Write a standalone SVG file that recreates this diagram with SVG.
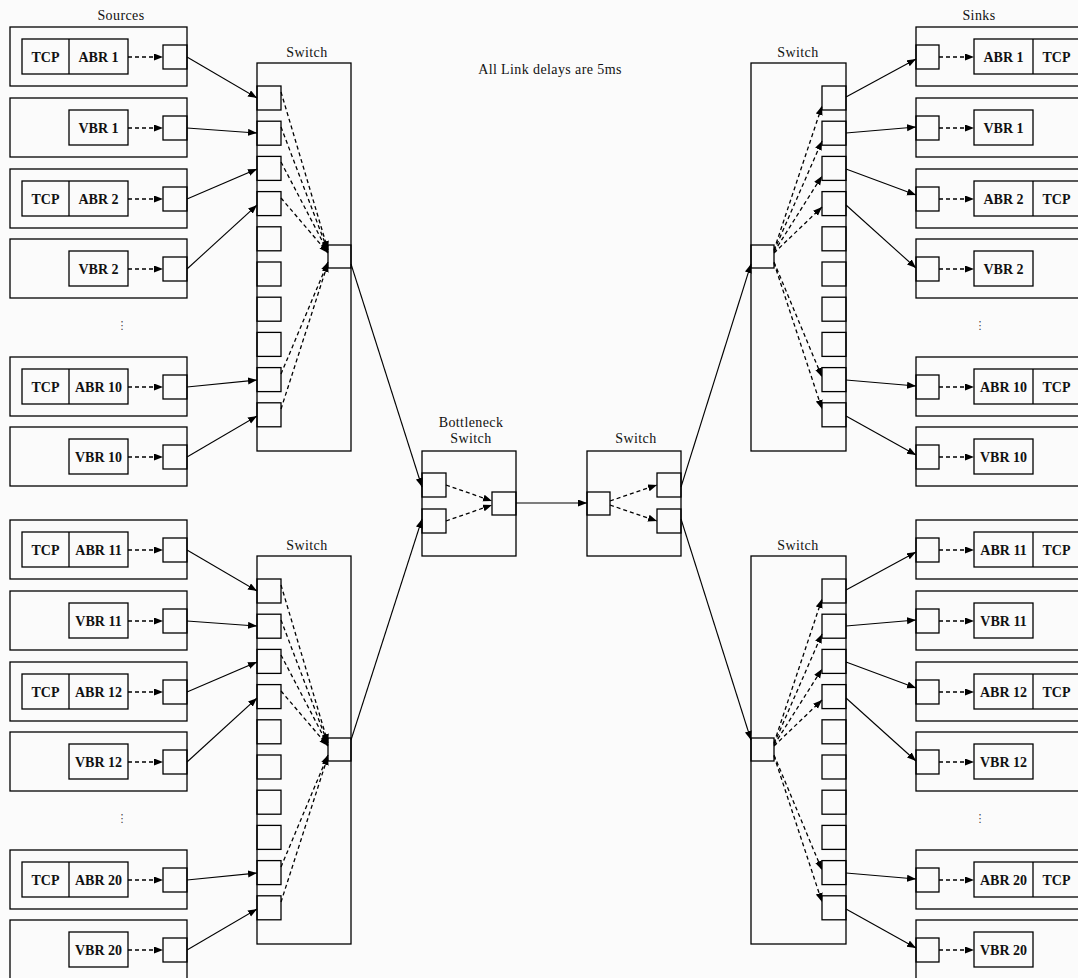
<svg xmlns="http://www.w3.org/2000/svg" width="1078" height="978" viewBox="0 0 1078 978">
<defs>
<marker id="ah" markerUnits="userSpaceOnUse" markerWidth="10" markerHeight="8" refX="9" refY="3.5" orient="auto"><path d="M0,0 L9,3.5 L0,7 z" fill="#000"/></marker>
<style>
.b{fill:none;stroke:#000;stroke-width:1.3}
.l{font-family:"Liberation Serif",serif;font-size:14px;font-weight:bold;text-anchor:middle;fill:#111}
.t{font-family:"Liberation Serif",serif;font-size:14px;letter-spacing:0.4px;text-anchor:middle;fill:#111}
.d{font-family:"DejaVu Sans",sans-serif;font-size:11px;text-anchor:middle;fill:#444}
.s{stroke:#000;stroke-width:1.1;fill:none;marker-end:url(#ah)}
.k{stroke:#000;stroke-width:1.3;stroke-dasharray:4 3;fill:none;marker-end:url(#ah)}
</style>
</defs>
<rect x="0" y="0" width="1078" height="978" fill="#fbfbfb"/>

<text class="t" x="121" y="20">Sources</text>
<text class="t" x="979" y="20">Sinks</text>
<text class="t" x="550" y="74">All Link delays are 5ms</text>
<text class="d" x="122" y="329">⋮</text>
<text class="d" x="122" y="822">⋮</text>
<text class="d" x="980" y="329">⋮</text>
<text class="d" x="980" y="822">⋮</text>

<!-- Sources -->
<g id="src-abr1"><rect class="b" x="10" y="27" width="177" height="59"/><rect class="b" x="22" y="39" width="106" height="35"/><line class="b" x1="69" y1="39" x2="69" y2="74"/><text class="l" x="45.5" y="61.5">TCP</text><text class="l" x="98.5" y="61.5">ABR 1</text><rect class="b" x="163" y="45" width="24" height="24"/></g>
<g id="src-vbr1"><rect class="b" x="10" y="98" width="177" height="59"/><rect class="b" x="69" y="110" width="59" height="35"/><text class="l" x="98.5" y="132.5">VBR 1</text><rect class="b" x="163" y="116" width="24" height="24"/></g>
<g id="src-abr2"><rect class="b" x="10" y="169" width="177" height="59"/><rect class="b" x="22" y="181" width="106" height="35"/><line class="b" x1="69" y1="181" x2="69" y2="216"/><text class="l" x="45.5" y="203.5">TCP</text><text class="l" x="98.5" y="203.5">ABR 2</text><rect class="b" x="163" y="187" width="24" height="24"/></g>
<g id="src-vbr2"><rect class="b" x="10" y="239" width="177" height="59"/><rect class="b" x="69" y="251" width="59" height="35"/><text class="l" x="98.5" y="273.5">VBR 2</text><rect class="b" x="163" y="257" width="24" height="24"/></g>
<g id="src-abr10"><rect class="b" x="10" y="357" width="177" height="59"/><rect class="b" x="22" y="369" width="106" height="35"/><line class="b" x1="69" y1="369" x2="69" y2="404"/><text class="l" x="45.5" y="391.5">TCP</text><text class="l" x="98.5" y="391.5">ABR 10</text><rect class="b" x="163" y="375" width="24" height="24"/></g>
<g id="src-vbr10"><rect class="b" x="10" y="427" width="177" height="59"/><rect class="b" x="69" y="439" width="59" height="35"/><text class="l" x="98.5" y="461.5">VBR 10</text><rect class="b" x="163" y="445" width="24" height="24"/></g>
<g id="src-abr11"><rect class="b" x="10" y="520" width="177" height="59"/><rect class="b" x="22" y="532" width="106" height="35"/><line class="b" x1="69" y1="532" x2="69" y2="567"/><text class="l" x="45.5" y="554.5">TCP</text><text class="l" x="98.5" y="554.5">ABR 11</text><rect class="b" x="163" y="538" width="24" height="24"/></g>
<g id="src-vbr11"><rect class="b" x="10" y="591" width="177" height="59"/><rect class="b" x="69" y="603" width="59" height="35"/><text class="l" x="98.5" y="625.5">VBR 11</text><rect class="b" x="163" y="609" width="24" height="24"/></g>
<g id="src-abr12"><rect class="b" x="10" y="662" width="177" height="59"/><rect class="b" x="22" y="674" width="106" height="35"/><line class="b" x1="69" y1="674" x2="69" y2="709"/><text class="l" x="45.5" y="696.5">TCP</text><text class="l" x="98.5" y="696.5">ABR 12</text><rect class="b" x="163" y="680" width="24" height="24"/></g>
<g id="src-vbr12"><rect class="b" x="10" y="732" width="177" height="59"/><rect class="b" x="69" y="744" width="59" height="35"/><text class="l" x="98.5" y="766.5">VBR 12</text><rect class="b" x="163" y="750" width="24" height="24"/></g>
<g id="src-abr20"><rect class="b" x="10" y="850" width="177" height="59"/><rect class="b" x="22" y="862" width="106" height="35"/><line class="b" x1="69" y1="862" x2="69" y2="897"/><text class="l" x="45.5" y="884.5">TCP</text><text class="l" x="98.5" y="884.5">ABR 20</text><rect class="b" x="163" y="868" width="24" height="24"/></g>
<g id="src-vbr20"><rect class="b" x="10" y="920" width="177" height="59"/><rect class="b" x="69" y="932" width="59" height="35"/><text class="l" x="98.5" y="954.5">VBR 20</text><rect class="b" x="163" y="938" width="24" height="24"/></g>

<!-- Sinks -->
<g id="snk-abr1"><rect class="b" x="916" y="27" width="180" height="59"/><rect class="b" x="916" y="45" width="23" height="24"/><rect class="b" x="974" y="39" width="106" height="35"/><line class="b" x1="1033" y1="39" x2="1033" y2="74"/><text class="l" x="1003.5" y="61.5">ABR 1</text><text class="l" x="1056.5" y="61.5">TCP</text></g>
<g id="snk-vbr1"><rect class="b" x="916" y="98" width="180" height="59"/><rect class="b" x="916" y="116" width="23" height="24"/><rect class="b" x="974" y="110" width="59" height="35"/><text class="l" x="1003.5" y="132.5">VBR 1</text></g>
<g id="snk-abr2"><rect class="b" x="916" y="169" width="180" height="59"/><rect class="b" x="916" y="187" width="23" height="24"/><rect class="b" x="974" y="181" width="106" height="35"/><line class="b" x1="1033" y1="181" x2="1033" y2="216"/><text class="l" x="1003.5" y="203.5">ABR 2</text><text class="l" x="1056.5" y="203.5">TCP</text></g>
<g id="snk-vbr2"><rect class="b" x="916" y="239" width="180" height="59"/><rect class="b" x="916" y="257" width="23" height="24"/><rect class="b" x="974" y="251" width="59" height="35"/><text class="l" x="1003.5" y="273.5">VBR 2</text></g>
<g id="snk-abr10"><rect class="b" x="916" y="357" width="180" height="59"/><rect class="b" x="916" y="375" width="23" height="24"/><rect class="b" x="974" y="369" width="106" height="35"/><line class="b" x1="1033" y1="369" x2="1033" y2="404"/><text class="l" x="1003.5" y="391.5">ABR 10</text><text class="l" x="1056.5" y="391.5">TCP</text></g>
<g id="snk-vbr10"><rect class="b" x="916" y="427" width="180" height="59"/><rect class="b" x="916" y="445" width="23" height="24"/><rect class="b" x="974" y="439" width="59" height="35"/><text class="l" x="1003.5" y="461.5">VBR 10</text></g>
<g id="snk-abr11"><rect class="b" x="916" y="520" width="180" height="59"/><rect class="b" x="916" y="538" width="23" height="24"/><rect class="b" x="974" y="532" width="106" height="35"/><line class="b" x1="1033" y1="532" x2="1033" y2="567"/><text class="l" x="1003.5" y="554.5">ABR 11</text><text class="l" x="1056.5" y="554.5">TCP</text></g>
<g id="snk-vbr11"><rect class="b" x="916" y="591" width="180" height="59"/><rect class="b" x="916" y="609" width="23" height="24"/><rect class="b" x="974" y="603" width="59" height="35"/><text class="l" x="1003.5" y="625.5">VBR 11</text></g>
<g id="snk-abr12"><rect class="b" x="916" y="662" width="180" height="59"/><rect class="b" x="916" y="680" width="23" height="24"/><rect class="b" x="974" y="674" width="106" height="35"/><line class="b" x1="1033" y1="674" x2="1033" y2="709"/><text class="l" x="1003.5" y="696.5">ABR 12</text><text class="l" x="1056.5" y="696.5">TCP</text></g>
<g id="snk-vbr12"><rect class="b" x="916" y="732" width="180" height="59"/><rect class="b" x="916" y="750" width="23" height="24"/><rect class="b" x="974" y="744" width="59" height="35"/><text class="l" x="1003.5" y="766.5">VBR 12</text></g>
<g id="snk-abr20"><rect class="b" x="916" y="850" width="180" height="59"/><rect class="b" x="916" y="868" width="23" height="24"/><rect class="b" x="974" y="862" width="106" height="35"/><line class="b" x1="1033" y1="862" x2="1033" y2="897"/><text class="l" x="1003.5" y="884.5">ABR 20</text><text class="l" x="1056.5" y="884.5">TCP</text></g>
<g id="snk-vbr20"><rect class="b" x="916" y="920" width="180" height="59"/><rect class="b" x="916" y="938" width="23" height="24"/><rect class="b" x="974" y="932" width="59" height="35"/><text class="l" x="1003.5" y="954.5">VBR 20</text></g>

<!-- Switches -->
<g id="sw-left-top"><text class="t" x="307" y="57">Switch</text><rect class="b" x="257" y="63" width="94" height="388"/>
<rect class="b" x="257" y="86" width="24" height="24"/><rect class="b" x="257" y="121.2" width="24" height="24"/><rect class="b" x="257" y="156.4" width="24" height="24"/><rect class="b" x="257" y="191.6" width="24" height="24"/><rect class="b" x="257" y="226.8" width="24" height="24"/><rect class="b" x="257" y="262" width="24" height="24"/><rect class="b" x="257" y="297.2" width="24" height="24"/><rect class="b" x="257" y="332.4" width="24" height="24"/><rect class="b" x="257" y="367.6" width="24" height="24"/><rect class="b" x="257" y="402.8" width="24" height="24"/>
<rect class="b" x="328" y="245" width="23" height="23"/></g>
<g id="sw-left-bottom"><text class="t" x="307" y="550">Switch</text><rect class="b" x="257" y="556" width="94" height="388"/>
<rect class="b" x="257" y="579" width="24" height="24"/><rect class="b" x="257" y="614.2" width="24" height="24"/><rect class="b" x="257" y="649.4" width="24" height="24"/><rect class="b" x="257" y="684.6" width="24" height="24"/><rect class="b" x="257" y="719.8" width="24" height="24"/><rect class="b" x="257" y="755" width="24" height="24"/><rect class="b" x="257" y="790.2" width="24" height="24"/><rect class="b" x="257" y="825.4" width="24" height="24"/><rect class="b" x="257" y="860.6" width="24" height="24"/><rect class="b" x="257" y="895.8" width="24" height="24"/>
<rect class="b" x="328" y="738" width="23" height="23"/></g>
<g id="sw-right-top"><text class="t" x="798" y="57">Switch</text><rect class="b" x="751" y="63" width="95" height="388"/>
<rect class="b" x="822" y="86" width="24" height="24"/><rect class="b" x="822" y="121.2" width="24" height="24"/><rect class="b" x="822" y="156.4" width="24" height="24"/><rect class="b" x="822" y="191.6" width="24" height="24"/><rect class="b" x="822" y="226.8" width="24" height="24"/><rect class="b" x="822" y="262" width="24" height="24"/><rect class="b" x="822" y="297.2" width="24" height="24"/><rect class="b" x="822" y="332.4" width="24" height="24"/><rect class="b" x="822" y="367.6" width="24" height="24"/><rect class="b" x="822" y="402.8" width="24" height="24"/>
<rect class="b" x="751" y="245" width="23" height="23"/></g>
<g id="sw-right-bottom"><text class="t" x="798" y="550">Switch</text><rect class="b" x="751" y="556" width="95" height="388"/>
<rect class="b" x="822" y="579" width="24" height="24"/><rect class="b" x="822" y="614.2" width="24" height="24"/><rect class="b" x="822" y="649.4" width="24" height="24"/><rect class="b" x="822" y="684.6" width="24" height="24"/><rect class="b" x="822" y="719.8" width="24" height="24"/><rect class="b" x="822" y="755" width="24" height="24"/><rect class="b" x="822" y="790.2" width="24" height="24"/><rect class="b" x="822" y="825.4" width="24" height="24"/><rect class="b" x="822" y="860.6" width="24" height="24"/><rect class="b" x="822" y="895.8" width="24" height="24"/>
<rect class="b" x="751" y="738" width="23" height="23"/></g>
<g id="sw-bottleneck"><text class="t" x="471" y="427">Bottleneck</text><text class="t" x="471" y="443">Switch</text><rect class="b" x="422" y="451" width="94" height="105"/>
<rect class="b" x="422" y="473" width="24" height="24"/><rect class="b" x="422" y="509" width="24" height="24"/><rect class="b" x="492" y="492" width="24" height="23"/></g>
<g id="sw-middle"><text class="t" x="636" y="443">Switch</text><rect class="b" x="587" y="451" width="94" height="105"/>
<rect class="b" x="587" y="492" width="23" height="23"/><rect class="b" x="657" y="473" width="24" height="24"/><rect class="b" x="657" y="509" width="24" height="24"/></g>

<g id="connectors">
<line class="k" x1="128" y1="57" x2="163" y2="57"/><line class="k" x1="128" y1="128" x2="163" y2="128"/><line class="k" x1="128" y1="199" x2="163" y2="199"/><line class="k" x1="128" y1="269" x2="163" y2="269"/><line class="k" x1="128" y1="387" x2="163" y2="387"/><line class="k" x1="128" y1="457" x2="163" y2="457"/>
<line class="k" x1="128" y1="550" x2="163" y2="550"/><line class="k" x1="128" y1="621" x2="163" y2="621"/><line class="k" x1="128" y1="692" x2="163" y2="692"/><line class="k" x1="128" y1="762" x2="163" y2="762"/><line class="k" x1="128" y1="880" x2="163" y2="880"/><line class="k" x1="128" y1="950" x2="163" y2="950"/>
<line class="k" x1="939" y1="57" x2="974" y2="57"/><line class="k" x1="939" y1="128" x2="974" y2="128"/><line class="k" x1="939" y1="199" x2="974" y2="199"/><line class="k" x1="939" y1="269" x2="974" y2="269"/><line class="k" x1="939" y1="387" x2="974" y2="387"/><line class="k" x1="939" y1="457" x2="974" y2="457"/>
<line class="k" x1="939" y1="550" x2="974" y2="550"/><line class="k" x1="939" y1="621" x2="974" y2="621"/><line class="k" x1="939" y1="692" x2="974" y2="692"/><line class="k" x1="939" y1="762" x2="974" y2="762"/><line class="k" x1="939" y1="880" x2="974" y2="880"/><line class="k" x1="939" y1="950" x2="974" y2="950"/>
<line class="s" x1="187" y1="57" x2="257" y2="98"/><line class="s" x1="187" y1="128" x2="257" y2="133"/><line class="s" x1="187" y1="199" x2="257" y2="169"/><line class="s" x1="187" y1="269" x2="257" y2="205"/><line class="s" x1="187" y1="387" x2="257" y2="380"/><line class="s" x1="187" y1="457" x2="257" y2="416"/>
<line class="s" x1="187" y1="550" x2="257" y2="591"/><line class="s" x1="187" y1="621" x2="257" y2="626"/><line class="s" x1="187" y1="692" x2="257" y2="662"/><line class="s" x1="187" y1="762" x2="257" y2="698"/><line class="s" x1="187" y1="880" x2="257" y2="873"/><line class="s" x1="187" y1="950" x2="257" y2="909"/>
<line class="k" x1="281" y1="92" x2="328" y2="250"/><line class="k" x1="281" y1="127" x2="328" y2="251"/><line class="k" x1="281" y1="162" x2="328" y2="252"/><line class="k" x1="281" y1="198" x2="328" y2="253"/><line class="k" x1="281" y1="374" x2="328" y2="262"/><line class="k" x1="281" y1="409" x2="328" y2="263"/>
<line class="k" x1="281" y1="585" x2="328" y2="743"/><line class="k" x1="281" y1="620" x2="328" y2="744"/><line class="k" x1="281" y1="655" x2="328" y2="745"/><line class="k" x1="281" y1="691" x2="328" y2="746"/><line class="k" x1="281" y1="867" x2="328" y2="755"/><line class="k" x1="281" y1="902" x2="328" y2="756"/>
<line class="s" x1="351" y1="264" x2="422" y2="487"/><line class="s" x1="351" y1="740" x2="422" y2="519"/>
<line class="k" x1="446" y1="485" x2="492" y2="501"/><line class="k" x1="446" y1="521" x2="492" y2="505"/>
<line class="s" x1="516" y1="503" x2="587" y2="503"/>
<line class="k" x1="610" y1="501" x2="657" y2="485"/><line class="k" x1="610" y1="505" x2="657" y2="521"/>
<line class="s" x1="681" y1="487" x2="751" y2="264"/><line class="s" x1="681" y1="519" x2="751" y2="740"/>
<line class="k" x1="774" y1="250" x2="822" y2="106"/><line class="k" x1="774" y1="251" x2="822" y2="141"/><line class="k" x1="774" y1="252" x2="822" y2="176"/><line class="k" x1="774" y1="253" x2="822" y2="207"/><line class="k" x1="774" y1="262" x2="822" y2="377"/><line class="k" x1="774" y1="263" x2="822" y2="409"/>
<line class="k" x1="774" y1="743" x2="822" y2="599"/><line class="k" x1="774" y1="744" x2="822" y2="634"/><line class="k" x1="774" y1="745" x2="822" y2="669"/><line class="k" x1="774" y1="746" x2="822" y2="700"/><line class="k" x1="774" y1="755" x2="822" y2="870"/><line class="k" x1="774" y1="756" x2="822" y2="902"/>
<line class="s" x1="846" y1="97" x2="916" y2="59"/><line class="s" x1="846" y1="133" x2="916" y2="127"/><line class="s" x1="846" y1="169" x2="916" y2="195"/><line class="s" x1="846" y1="205" x2="916" y2="268"/><line class="s" x1="846" y1="380" x2="916" y2="386"/><line class="s" x1="846" y1="416" x2="916" y2="455"/>
<line class="s" x1="846" y1="590" x2="916" y2="552"/><line class="s" x1="846" y1="626" x2="916" y2="620"/><line class="s" x1="846" y1="662" x2="916" y2="688"/><line class="s" x1="846" y1="698" x2="916" y2="761"/><line class="s" x1="846" y1="873" x2="916" y2="879"/><line class="s" x1="846" y1="909" x2="916" y2="948"/>
</g>
</svg>
